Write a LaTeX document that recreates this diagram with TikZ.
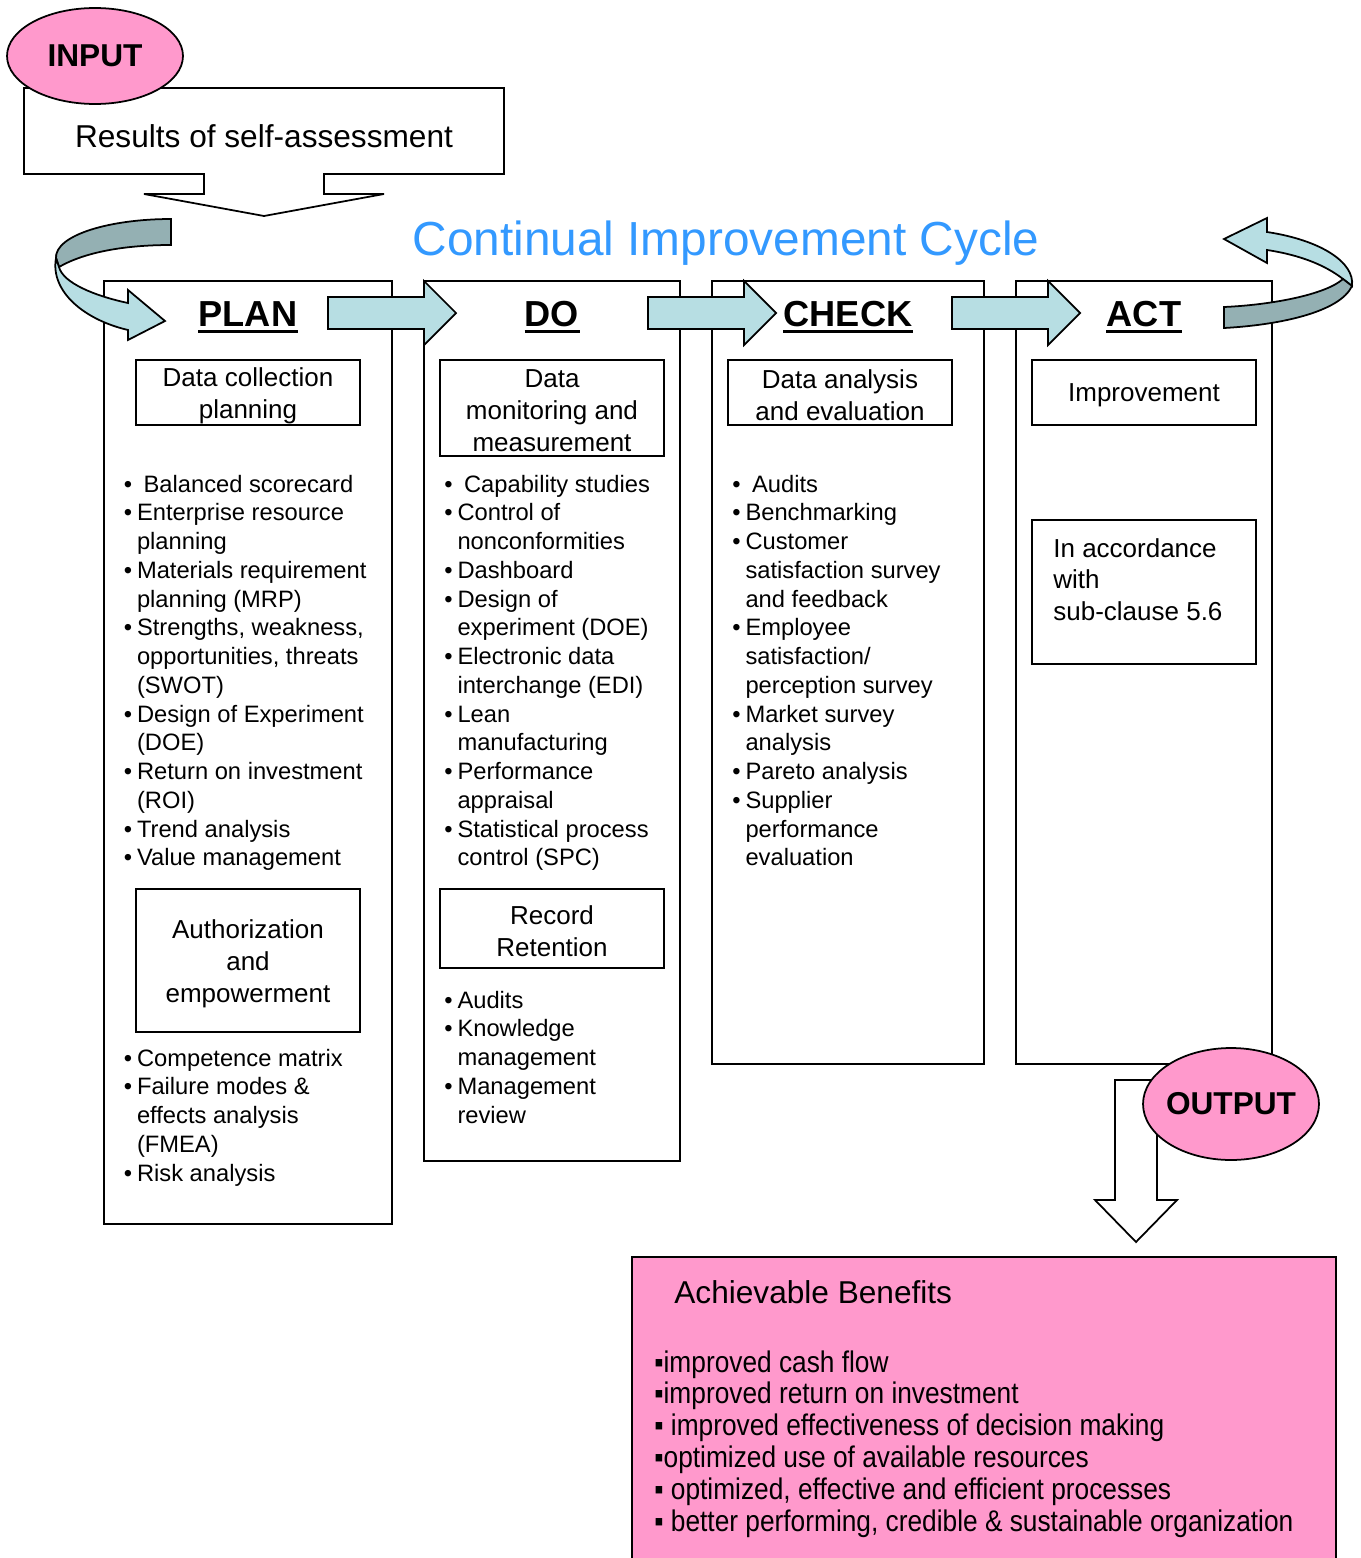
\documentclass[tikz,border=0pt]{standalone}
\usepackage{fontspec}
\setmainfont{Liberation Sans}
\newfontfamily\narrowsf[FakeStretch=0.88]{Liberation Sans}
\usetikzlibrary{shapes.geometric}

\definecolor{pinkfill}{RGB}{255,153,204}
\definecolor{arrowfill}{RGB}{183,222,227}
\definecolor{arrowdark}{RGB}{148,176,179}
\definecolor{titleblue}{RGB}{51,153,255}

\newcommand{\listfont}{\fontsize{13.5}{16.37}\selectfont}
\newcommand{\boxfont}{\fontsize{14.8}{18.2}\selectfont}
\newcommand{\bitem}[1]{\par\hangindent=7.5pt\hangafter=1\noindent\makebox[7.5pt][l]{\textbullet}#1}
\newcommand{\blist}[1]{\parbox[t]{165pt}{\listfont#1}}

\tikzstyle{frame}=[line width=1pt]
\tikzstyle{boxtext}=[inner sep=0,align=center,font=\boxfont,yshift=-1.7pt]
\tikzstyle{listtext}=[anchor=base west,inner sep=0]
\tikzstyle{hdr}=[anchor=base,inner sep=0,font=\fontsize{20.6}{24}\selectfont\bfseries]
\tikzstyle{hdrline}=[line width=1.7pt]
\tikzstyle{blockarrow}=[line width=1pt,fill=arrowfill,line join=miter]
\tikzstyle{bubble}=[ellipse,draw,line width=1pt,fill=pinkfill,inner ysep=0,inner xsep=-6pt,
                    minimum width=3.52cm,font=\fontsize{18}{20}\selectfont\bfseries]

\begin{document}
\begin{tikzpicture}[x=0.02cm,y=-0.02cm]
\useasboundingbox (0,0) rectangle (1361,1558);

% input
\draw[frame,fill=white] (24,88) -- (504,88) -- (504,174) -- (324,174) -- (324,194)
      -- (384,194) -- (264,216) -- (144,194) -- (204,194) -- (204,174) -- (24,174) -- cycle;
\node[font=\fontsize{18}{20}\selectfont] (results) at (264,136) {Results of self-assessment};
\node[bubble,minimum height=1.92cm] (input) at (95,56) {INPUT};

\node[font=\fontsize{27.2}{32}\selectfont,text=titleblue] (title) at (726,243) {Continual Improvement Cycle};

% the four columns
\draw[frame] (104,281) rectangle (392,1224);
\draw[frame] (424,281) rectangle (680,1161);
\draw[frame] (712,281) rectangle (984,1064);
\draw[frame] (1016,281) rectangle (1272,1064);

\node[hdr] (plan) at (248,326) {PLAN};
\node[hdr] (do) at (552,326) {DO};
\node[hdr] (check) at (848,326) {CHECK};
\node[hdr] (act) at (1144,326) {ACT};
\foreach \h in {plan,do,check,act}
  \draw[hdrline] ([yshift=-3.4pt]\h.base west) -- ([yshift=-3.4pt]\h.base east);

\foreach \a/\b/\c in {328/424/456, 648/744/776, 952/1048/1080}
  \draw[blockarrow] (\a,297) -- (\b,297) -- (\b,281) -- (\c,313) -- (\b,345) -- (\b,329) -- (\a,329) -- cycle;

% curved arrows
\draw[blockarrow,fill=arrowdark] (171,219) .. controls (110,219) and (55,235) .. (56,258)
      -- (59,267) .. controls (85,252) and (125,245) .. (171,245) -- cycle;
\draw[blockarrow] (56,258) .. controls (50,292) and (85,320) .. (128,330) -- (128,340)
      -- (165,321) -- (128,290) -- (128,303) .. controls (95,296) and (63,283) .. (59,267) -- cycle;

\draw[blockarrow] (1224,239) -- (1267,218) -- (1267,232) .. controls (1320,240) and (1355,262) .. (1352,286)
      -- (1343,279) .. controls (1325,265) and (1300,255) .. (1267,250) -- (1267,263) -- cycle;
\draw[blockarrow,fill=arrowdark] (1343,279) -- (1352,286) .. controls (1340,312) and (1280,325) .. (1224,328)
      -- (1224,307) .. controls (1270,305) and (1325,295) .. (1343,279) -- cycle;

% boxes
\draw[frame] (136,360) rectangle (360,425) node[pos=0.5,boxtext] (plana) {Data collection\\planning};
\draw[frame] (440,360) rectangle (664,456) node[pos=0.5,boxtext] (doa) {Data\\monitoring and\\measurement};
\draw[frame] (728,360) rectangle (952,425) node[pos=0.5,boxtext] (checka) {Data analysis\\and evaluation};
\draw[frame] (1032,360) rectangle (1256,425) node[pos=0.5,boxtext] (acta) {Improvement};
\draw[frame] (136,889) rectangle (360,1032) node[pos=0.5,boxtext] (planb) {Authorization\\and\\empowerment};
\draw[frame] (440,889) rectangle (664,968) node[pos=0.5,boxtext] (dob) {Record\\Retention};
\draw[frame] (1032,520) rectangle (1256,664);
\node[anchor=base west,inner sep=0,font=\boxfont,align=left] (actb) at (1053,557)
      {\parbox[t]{150pt}{In accordance\\with\\sub-clause 5.6}};

% lists
\node[listtext] (planlist) at (123.5,492) {\blist{%
  \bitem{\ Balanced scorecard}
  \bitem{Enterprise resource\\planning}
  \bitem{Materials requirement\\planning (MRP)}
  \bitem{Strengths, weakness,\\opportunities, threats\\(SWOT)}
  \bitem{Design of Experiment\\(DOE)}
  \bitem{Return on investment\\(ROI)}
  \bitem{Trend analysis}
  \bitem{Value management}}};
\node[listtext] (planlistb) at (123.5,1066) {\blist{%
  \bitem{Competence matrix}
  \bitem{Failure modes \&\\effects analysis\\(FMEA)}
  \bitem{Risk analysis}}};
\node[listtext] (dolist) at (444,492) {\blist{%
  \bitem{\ Capability studies}
  \bitem{Control of\\nonconformities}
  \bitem{Dashboard}
  \bitem{Design of\\experiment (DOE)}
  \bitem{Electronic data\\interchange (EDI)}
  \bitem{Lean\\manufacturing}
  \bitem{Performance\\appraisal}
  \bitem{Statistical process\\control (SPC)}}};
\node[listtext] (dolistb) at (444,1008) {\blist{%
  \bitem{Audits}
  \bitem{Knowledge\\management}
  \bitem{Management\\review}}};
\node[listtext] (checklist) at (732,492) {\blist{%
  \bitem{\ Audits}
  \bitem{Benchmarking}
  \bitem{Customer\\satisfaction survey\\and feedback}
  \bitem{Employee\\satisfaction/\\perception survey}
  \bitem{Market survey\\analysis}
  \bitem{Pareto analysis}
  \bitem{Supplier\\performance\\evaluation}}};

% output
\draw[frame,fill=white] (1115,1080) -- (1157,1080) -- (1157,1200) -- (1177,1200) -- (1136,1242)
      -- (1095,1200) -- (1115,1200) -- cycle;
\node[bubble,minimum height=2.24cm] (output) at (1231,1104) {OUTPUT};

\draw[frame,fill=pinkfill] (632,1257) rectangle (1336,1570);
\node[anchor=base west,inner sep=0,font=\fontsize{18}{20}\selectfont] (benefits) at (674,1303) {Achievable Benefits};
\node[anchor=base west,inner sep=0] (benefitlist) at (654,1372) {\parbox[t]{13cm}{\narrowsf\fontsize{17}{18.2}\selectfont
  ▪improved cash flow\\
  ▪improved return on investment\\
  ▪ improved effectiveness of decision making\\
  ▪optimized use of available resources\\
  ▪ optimized, effective and efficient processes\\
  ▪ better performing, credible \& sustainable organization}};
\end{tikzpicture}
\end{document}
